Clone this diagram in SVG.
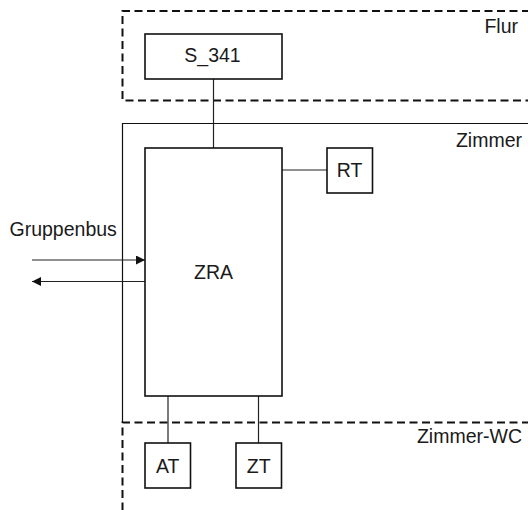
<svg xmlns="http://www.w3.org/2000/svg" width="528" height="510" viewBox="0 0 528 510">
<style>
text{font-family:"Liberation Sans",Arial,sans-serif;font-size:19.5px;fill:#1a1a1a}
.box{fill:#fff;stroke:#111;stroke-width:1.6}
.area{fill:none;stroke:#111;stroke-width:1.2}
.dash{fill:none;stroke:#111;stroke-width:2;stroke-dasharray:8 4.5}
.con{fill:none;stroke:#222;stroke-width:1.2}
.c{text-anchor:middle}
.e{text-anchor:end}
</style>
<defs>
<marker id="ah" viewBox="0 0 10 10" refX="10" refY="5" markerWidth="15" markerHeight="9" markerUnits="userSpaceOnUse" orient="auto">
<path d="M0,0 L10,5 L0,10 z" fill="#111"/>
</marker>
</defs>
<g id="area-flur">
<path class="dash" d="M530,11 H122.5 V100.5 H530"/>
<text class="e" x="518" y="33">Flur</text>
</g>
<g id="area-zimmer">
<path class="area" d="M530,123.5 H122.5 V422"/>
<text class="e" x="522" y="147">Zimmer</text>
</g>
<g id="area-zimmer-wc">
<path class="dash" d="M530,422.5 H122.5 V510"/>
<text class="e" x="522" y="443">Zimmer-WC</text>
</g>
<g id="connectors">
<line class="con" x1="213.5" y1="79" x2="213.5" y2="148"/>
<line class="con" x1="282" y1="170" x2="327" y2="170"/>
<line class="con" x1="168" y1="396" x2="168" y2="443"/>
<line class="con" x1="258.5" y1="396" x2="258.5" y2="443"/>
<line class="con" x1="32" y1="260" x2="145" y2="260" marker-end="url(#ah)"/>
<line class="con" x1="145" y1="281.5" x2="32" y2="281.5" marker-end="url(#ah)"/>
</g>
<text x="9.5" y="236">Gruppenbus</text>
<g id="node-s341">
<rect class="box" x="145" y="34" width="137" height="45"/>
<text class="c" x="212.5" y="62">S_341</text>
</g>
<g id="node-zra">
<rect class="box" x="145" y="148" width="137" height="248"/>
<text class="c" x="213.5" y="278.5">ZRA</text>
</g>
<g id="node-rt">
<rect class="box" x="327" y="148" width="45.5" height="45"/>
<text class="c" x="349.7" y="176.5">RT</text>
</g>
<g id="node-at">
<rect class="box" x="145" y="443" width="45.5" height="45"/>
<text class="c" x="167.7" y="472.5">AT</text>
</g>
<g id="node-zt">
<rect class="box" x="236" y="443" width="45.5" height="45"/>
<text class="c" x="258.7" y="472.5">ZT</text>
</g>
</svg>
